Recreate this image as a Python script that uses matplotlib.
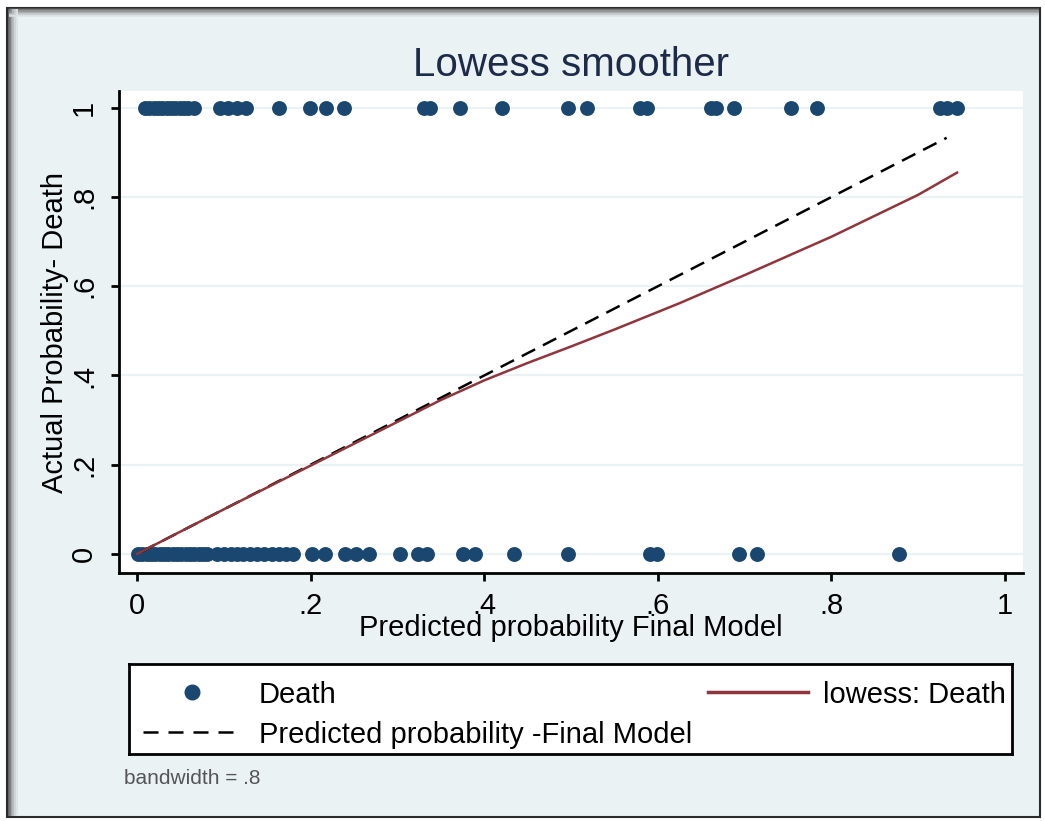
import matplotlib.pyplot as plt
from matplotlib.patches import Rectangle
from matplotlib.lines import Line2D

plt.rcParams['font.family'] = ['Liberation Sans', 'DejaVu Sans']

# observed outcome (Death = 1 / 0) against predicted probability
death_x = [0.009, 0.014, 0.019, 0.024, 0.029, 0.034, 0.039, 0.044, 0.049, 0.054,
           0.059, 0.065, 0.095, 0.105, 0.115, 0.125, 0.163, 0.199, 0.218, 0.238,
           0.331, 0.337, 0.372, 0.421, 0.496, 0.519, 0.579, 0.588, 0.661, 0.667,
           0.688, 0.754, 0.784, 0.925, 0.933, 0.945]
alive_x = [0.001, 0.006, 0.011, 0.016, 0.021, 0.026, 0.031, 0.036, 0.041, 0.046,
           0.051, 0.056, 0.061, 0.066, 0.071, 0.076, 0.081, 0.092, 0.100, 0.108,
           0.115, 0.122, 0.130, 0.138, 0.146, 0.155, 0.163, 0.172, 0.180, 0.202,
           0.216, 0.239, 0.252, 0.267, 0.303, 0.324, 0.334, 0.375, 0.389, 0.434,
           0.496, 0.591, 0.599, 0.694, 0.714, 0.878]

pred_line = [0.005, 0.933]

lowess_x = [0.0, 0.1, 0.2, 0.3, 0.35, 0.4, 0.45, 0.5, 0.55, 0.625, 0.7, 0.8, 0.9, 0.945]
lowess_y = [0.0, 0.1, 0.198, 0.296, 0.345, 0.389, 0.428, 0.465, 0.503, 0.562, 0.625, 0.711, 0.805, 0.855]

ticks = [0, 0.2, 0.4, 0.6, 0.8, 1.0]
tick_labels = ['0', '.2', '.4', '.6', '.8', '1']

navy = '#1a476f'
maroon = '#90353b'
bg = '#eaf2f3'
W, H = 1045, 821

fig = plt.figure(figsize=(W / 100, H / 100), dpi=100, facecolor='white')

# outer frame (pixel coordinates)
frame = fig.add_axes([0, 0, 1, 1], zorder=-10)
frame.set_xlim(0, W)
frame.set_ylim(H, 0)
frame.axis('off')
frame.add_patch(Rectangle((7, 8), 1033, 809, facecolor=bg, edgecolor='#2b2b2b', lw=1.5))
for i, g in enumerate(['#555555', '#777777', '#999999', '#b5b9ba', '#cdd3d4', '#dde4e5']):
    frame.plot([8.5 + i * 1.6, 8.5 + i * 1.6], [9, 816], color=g, lw=1.3, solid_capstyle='butt')
    frame.plot([9, 1039], [9.5 + i * 1.4, 9.5 + i * 1.4], color=g, lw=1.1, solid_capstyle='butt')

ax = fig.add_axes([119 / W, 1 - 573 / H, (1023 - 119) / W, (573 - 91) / H])
ax.set_facecolor('white')
ax.set_xlim(-0.021, 1.021)
ax.set_ylim(-0.043, 1.038)

ax.scatter(death_x, [1] * len(death_x), s=115, color=navy, zorder=3, linewidths=0)
ax.scatter(alive_x, [0] * len(alive_x), s=115, color=navy, zorder=3, linewidths=0)
ax.plot(pred_line, pred_line, color='black', lw=1.8, dashes=(6, 3.5), zorder=4)
ax.plot(lowess_x, lowess_y, color=maroon, lw=1.8, zorder=4)

for s in ['top', 'right']:
    ax.spines[s].set_visible(False)
for s in ['left', 'bottom']:
    ax.spines[s].set_linewidth(2)
    ax.spines[s].set_color('black')

ax.set_xticks(ticks)
ax.set_xticklabels(tick_labels, fontsize=21)
ax.set_yticks(ticks)
ax.set_yticklabels(tick_labels, fontsize=21, rotation=90, va='center')
ax.tick_params(axis='x', length=6, width=2, pad=8)
ax.tick_params(axis='y', length=6, width=2, pad=9)
ax.yaxis.grid(True, color=bg, lw=1.6)
ax.set_axisbelow(True)

ax.set_xlabel('Predicted probability Final Model', fontsize=21, va='center')
ax.xaxis.set_label_coords(0.5, (573 - 628) / 482)
ax.set_ylabel('Actual Probability- Death', fontsize=21, va='center', ha='center')
ax.yaxis.set_label_coords((55 - 119) / 904, 0.5)

fig.text(571 / W, 1 - 76 / H, 'Lowess smoother', fontsize=29, ha='center', va='baseline',
         color='#1e2a4a')

# legend box
lg = fig.add_axes([129 / W, 1 - 754 / H, (1012 - 129) / W, (754 - 664) / H])
lg.set_xlim(129, 1012)
lg.set_ylim(754, 664)
lg.set_xticks([])
lg.set_yticks([])
for s in lg.spines.values():
    s.set_linewidth(2)
    s.set_color('black')
lg.add_line(Line2D([192], [692], marker='o', markersize=10.5, color=navy, lw=0))
lg.add_line(Line2D([143, 242], [732, 732], color='black', lw=1.8, dashes=(6, 4)))
lg.add_line(Line2D([708, 808], [692, 692], color=maroon, lw=2.5))
lg.text(259, 703, 'Death', fontsize=21, va='baseline')
lg.text(259, 743, 'Predicted probability -Final Model', fontsize=21, va='baseline')
lg.text(823, 703, 'lowess: Death', fontsize=21, va='baseline', clip_on=True)

fig.text(124 / W, 1 - 784 / H, 'bandwidth = .8', fontsize=15, color='#555555', va='baseline')

fig.savefig('out.png', dpi=100, facecolor='white')
